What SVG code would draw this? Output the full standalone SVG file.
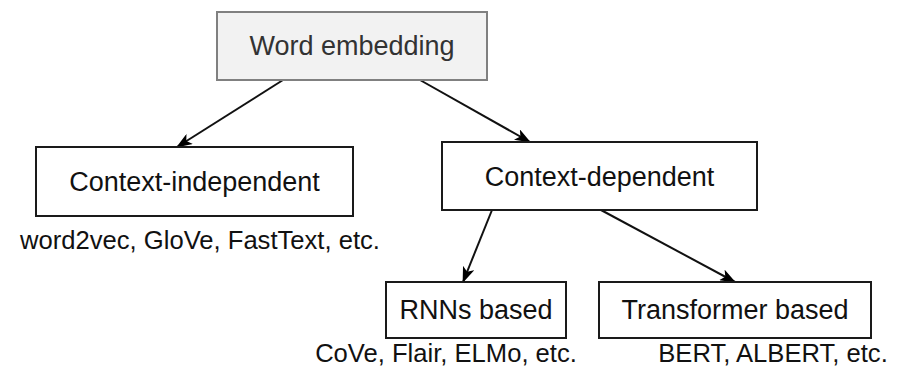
<svg xmlns="http://www.w3.org/2000/svg" width="900" height="380" viewBox="0 0 900 380">
  <defs>
    <marker id="arr" viewBox="0 0 16 12" refX="15" refY="6" markerWidth="16" markerHeight="12" markerUnits="userSpaceOnUse" orient="auto">
      <path d="M0,0 L16,6 L0,12 L4,6 Z" fill="#000"/>
    </marker>
  </defs>
  <style>
    .box { fill: #ffffff; stroke: #1a1a1a; stroke-width: 2; }
    .root { fill: #f2f2f2; stroke: #808080; stroke-width: 2; }
    .t { font-family: "Liberation Sans", Arial, sans-serif; font-size: 27px; fill: #111; text-anchor: middle; }
    .lbl { font-family: "Liberation Sans", Arial, sans-serif; font-size: 25.6px; fill: #111; text-anchor: middle; }
    .edge { stroke: #111; stroke-width: 2; fill: none; marker-end: url(#arr); }
  </style>
  <rect width="900" height="380" fill="#ffffff"/>
  <g id="connectors">
    <line class="edge" x1="283" y1="80" x2="177" y2="147"/>
    <line class="edge" x1="420" y1="80" x2="530" y2="142"/>
    <line class="edge" x1="492" y1="210" x2="463" y2="282"/>
    <line class="edge" x1="601" y1="210" x2="735" y2="282"/>
  </g>
  <g id="word-embedding">
    <rect class="root" x="217" y="12" width="270" height="68"/>
    <text class="t" x="352" y="55" style="fill:#333">Word embedding</text>
  </g>
  <g id="context-independent">
    <rect class="box" x="36" y="147" width="317" height="69"/>
    <text class="t" x="194.5" y="191">Context-independent</text>
    <text class="lbl" x="200" y="249">word2vec, GloVe, FastText, etc.</text>
  </g>
  <g id="context-dependent">
    <rect class="box" x="442" y="142" width="315" height="68"/>
    <text class="t" x="599.5" y="186">Context-dependent</text>
  </g>
  <g id="rnns-based">
    <rect class="box" x="386" y="282" width="180" height="56"/>
    <text class="t" x="476" y="319">RNNs based</text>
    <text class="lbl" x="446" y="362">CoVe, Flair, ELMo, etc.</text>
  </g>
  <g id="transformer-based">
    <rect class="box" x="599" y="282" width="272" height="56"/>
    <text class="t" x="735" y="319">Transformer based</text>
    <text class="lbl" x="773" y="362">BERT, ALBERT, etc.</text>
  </g>
</svg>
